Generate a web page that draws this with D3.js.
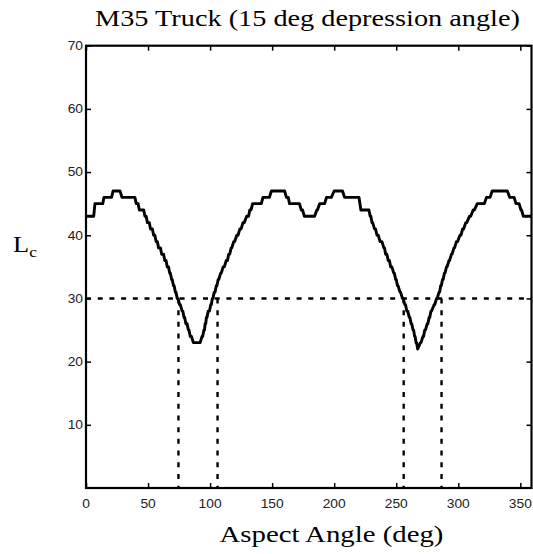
<!DOCTYPE html>
<html><head><meta charset="utf-8">
<script src="https://cdn.jsdelivr.net/npm/d3@7"></script>
<style>body{margin:0;background:#fff}svg{display:block}</style>
</head><body>
<svg id="c" width="533" height="554"></svg>
<script>
const angles = [0,6.2,7.2,13.5,14.5,20.6,21.8,27.4,29,39.4,40.5,42,43,46.5,47.5,48.5,49.5,51,52,53.5,54.5,55.5,56.5,57.5,58.5,60,61,62.5,63.5,64.5,65.5,66.5,67.5,68,69,69.5,70.5,71,72,72.5,73.5,74,75.5,76,77.5,78,79,79.5,80.5,81.5,82.5,83,84,85,86.5,92,
93.5,94,95,95.5,96,96.5,97,97.5,98.5,99.5,100.5,101,101.8,102.3,103.3,104,105,105.5,106.5,107,108.5,109,110.5,111.5,113,114,115,115.8,117,117.5,119,119.8,121.5,122.5,124,125,126.5,127.5,129.5,131,132,133,134.3,141.3,142.6,147.8,149.4,160.1,161.5,163,164,172,173.5,174.5,176,184.2,186,186.5,188.3,192.3,193.8,197.7,200,206.7,208.4,220,221.5,228,
229,229.5,230.5,231,232.5,233.3,234.5,235.5,237,238.5,240,240.5,241.5,242.5,243.5,244.5,245.5,246.5,248,248.5,249.5,250,251,251.5,253,253.5,255,255.5,257,257.5,258.5,259.3,260.5,261,262,262.5,263.5,264,264.8,265.2,266,266.4,267.3,
269.5,270,271.5,272,273,273.5,275,275.5,276.5,277,278,278.5,280.5,281,282.5,283,284.5,285,285.8,286.3,287.3,287.8,288.8,289.3,290.5,291,292.5,293,294.5,295,296.5,297,298.5,299.5,301.3,302.2,303.5,304.3,306,306.8,309,310,312,313,315.3,321,322.7,325.6,327.3,339.5,341.5,345,346.5,349,350.5,351,352.4,359];
const lcValues = [43,43,45,45,46,46,47,47,46,46,45,45,44,44,43,43,42,42,41,41,40,40,39,39,38,38,37,37,36,36,35,35,34,34,33,33,32,32,31,31,30,30,29,29,28,28,27,27,26,26,25,25,24,24,23,23,
24,24,25,25,26,26,27,27,28,28,29,29,30,30,31,31,32,32,33,33,34,34,35,35,36,36,37,37,38,38,39,39,40,40,41,41,42,42,43,43,44,44,45,45,46,46,47,47,46,46,45,45,44,44,43,43,44,44,45,45,46,46,47,47,46,46,44,44,
43,43,42,42,41,41,40,40,39,39,38,38,37,37,36,36,35,35,34,34,33,33,32,32,31,31,30,30,29,29,28,28,27,27,26,26,25,25,24,24,23,23,22,
23,23,24,24,25,25,26,26,27,27,28,28,29,29,30,30,31,31,32,32,33,33,34,34,35,35,36,36,37,37,38,38,39,39,40,40,41,41,42,42,43,43,44,44,45,45,46,46,47,47,46,46,45,45,44,44,43,43];
const threshold = 30;
const crossings = [74.5, 106, 256, 286.5];
const xTicks = [0,50,100,150,200,250,300,350];
const yTicks = [10,20,30,40,50,60,70];
const titleText = "M35 Truck (15 deg depression angle)";
const xLabel = "Aspect Angle (deg)";

const svg = d3.select("#c");
const L = 86, R = 531.5, T = 45.7, B = 488;
const x = d3.scaleLinear().domain([0,359]).range([L,R]);
const y = d3.scaleLinear().domain([0,70]).range([B,T]);

const tickFont = "'Liberation Sans', Arial, sans-serif";
const gxb = svg.append("g").attr("transform",`translate(0,${B})`)
  .call(d3.axisTop(x).tickValues(xTicks).tickSize(5).tickFormat(""));
const gxt = svg.append("g").attr("transform",`translate(0,${T})`)
  .call(d3.axisBottom(x).tickValues(xTicks).tickSize(5).tickFormat(""));
const gyl = svg.append("g").attr("transform",`translate(${L},0)`)
  .call(d3.axisRight(y).tickValues(yTicks).tickSize(5).tickFormat(""));
const gyr = svg.append("g").attr("transform",`translate(${R},0)`)
  .call(d3.axisLeft(y).tickValues(yTicks).tickSize(5).tickFormat(""));
[gxb,gxt,gyl,gyr].forEach(g=>{g.select(".domain").remove();g.selectAll("line").attr("stroke","#000").attr("stroke-width",1.5);});

svg.append("g").selectAll("text").data(xTicks).join("text")
  .attr("transform",d=>`translate(${x(d)},508) scale(1.15,1)`)
  .attr("text-anchor","middle").attr("font-family",tickFont).attr("font-size",12).attr("fill","#222")
  .text(d=>d);
svg.append("g").selectAll("text").data(yTicks).join("text")
  .attr("transform",d=>`translate(${L-3},${y(d)+4.3}) scale(1.15,1)`)
  .attr("text-anchor","end").attr("font-family",tickFont).attr("font-size",12).attr("fill","#222")
  .text(d=>d);

svg.append("rect").attr("x",L).attr("y",T).attr("width",R-L).attr("height",B-T)
  .attr("fill","none").attr("stroke","#000").attr("stroke-width",2.2);

svg.append("line").attr("x1",x(0)).attr("x2",x(359)).attr("y1",y(threshold)).attr("y2",y(threshold))
  .attr("stroke","#000").attr("stroke-width",2.4).attr("stroke-dasharray","5,6.7");
svg.append("g").selectAll("line").data(crossings).join("line")
  .attr("x1",d=>x(d)).attr("x2",d=>x(d)).attr("y1",y(threshold)).attr("y2",y(0))
  .attr("stroke","#000").attr("stroke-width",2.4).attr("stroke-dasharray","5,6.7");

const data = angles.map((a,i)=>[a,lcValues[i]]);
svg.append("path").datum(data)
  .attr("d",d3.line().x(d=>x(d[0])).y(d=>y(d[1])))
  .attr("fill","none").attr("stroke","#000").attr("stroke-width",2.9).attr("stroke-linejoin","round");

const serif = "'Liberation Serif','Times New Roman',serif";
svg.append("text").attr("transform","translate(307.5,26) scale(1.23,1)")
  .attr("text-anchor","middle").attr("font-family",serif).attr("font-size",23).text(titleText);
svg.append("text").attr("transform","translate(331.5,542) scale(1.2,1)")
  .attr("text-anchor","middle").attr("font-family",serif).attr("font-size",24).text(xLabel);
const yl = svg.append("text").attr("transform","translate(13,252) scale(1.15,1)")
  .attr("font-family",serif).attr("font-size",23);
yl.append("tspan").text("L");
yl.append("tspan").attr("font-size",15).attr("dy",5).text("c");
</script>
</body></html>
